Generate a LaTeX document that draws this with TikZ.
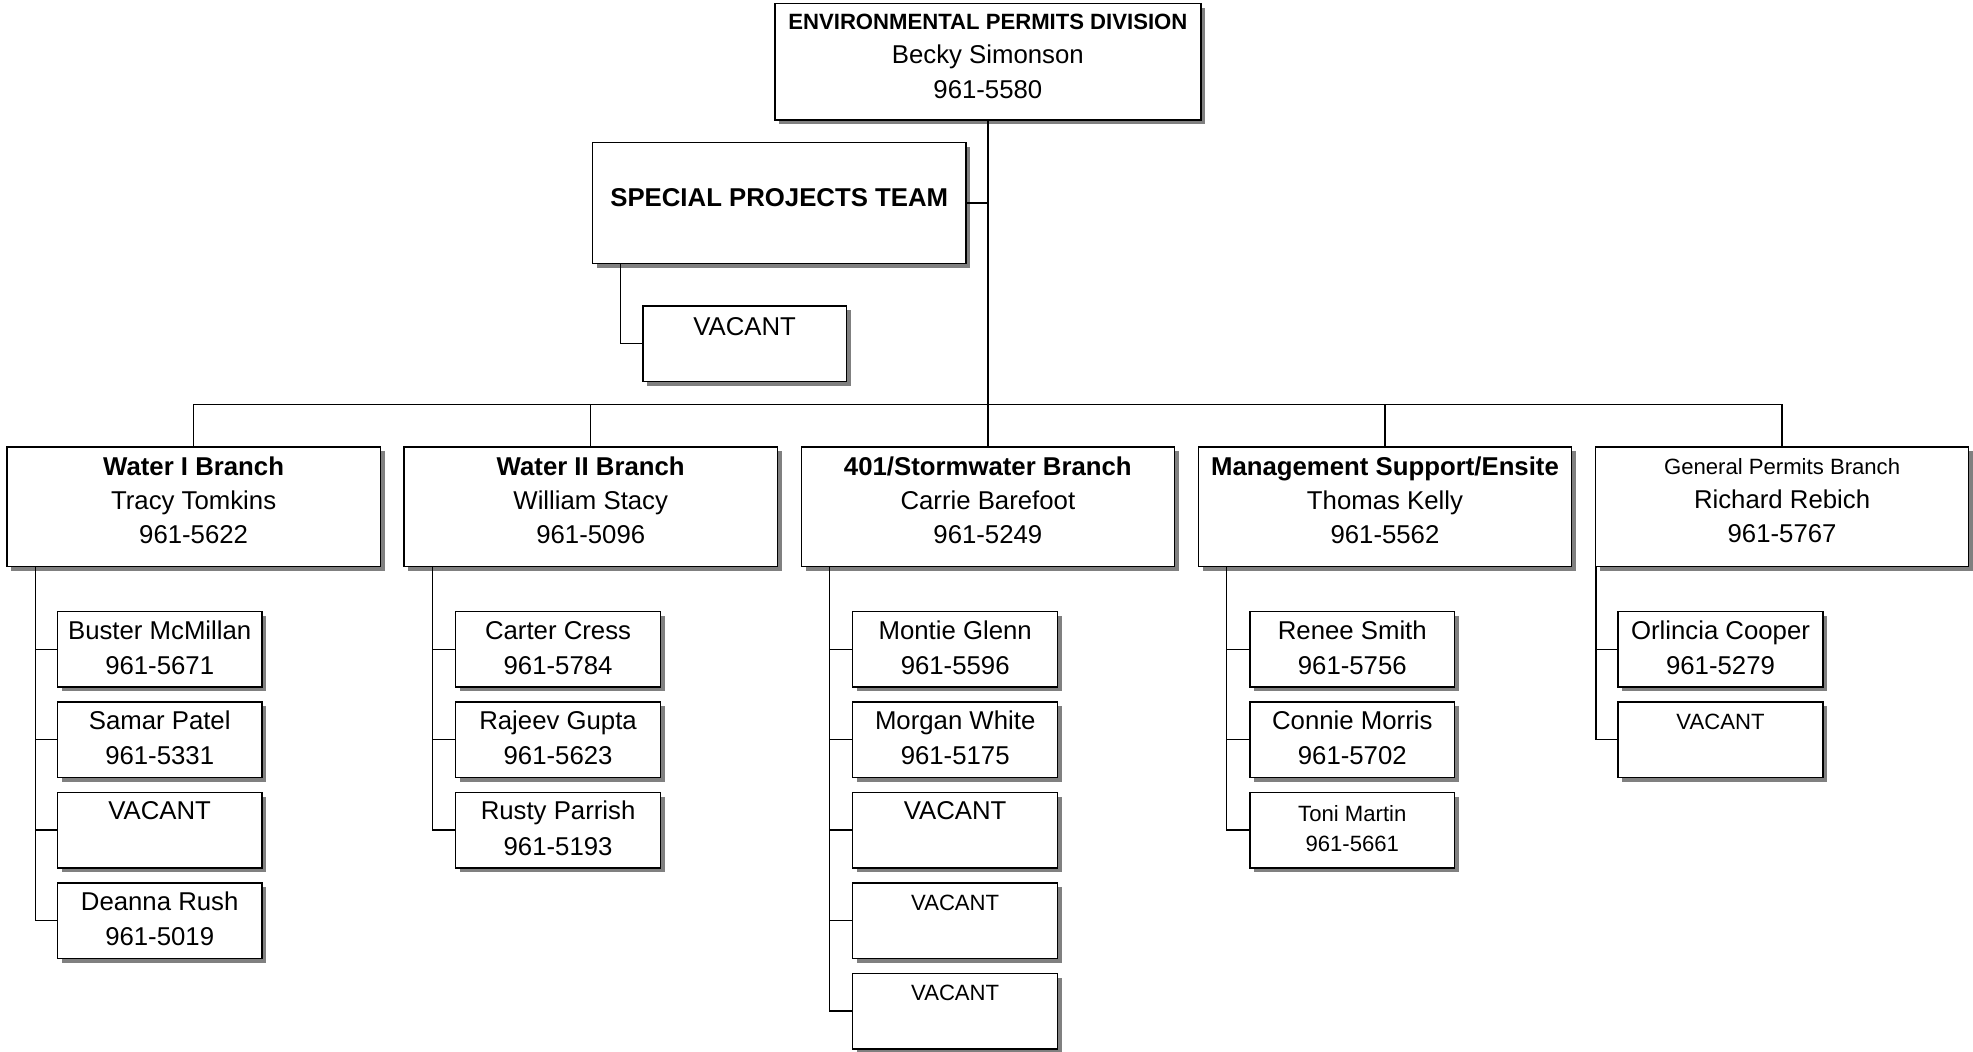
\documentclass[tikz,border=0pt]{standalone}
\usepackage{fontspec}
\setmainfont{Liberation Sans}
\usetikzlibrary{shadows,calc}
\tikzset{
  x=1pt, y=-1pt,
  unitbox/.style={draw, line width=1.15pt, fill=white, inner sep=0pt, anchor=north west,
    general shadow={fill=black!50, shadow xshift=3.4pt, shadow yshift=-3.4pt}},
  conn/.style={line width=1.05pt},
  bigtxt/.style={font=\fontsize{20.5}{24}\selectfont, inner sep=0pt, anchor=base},
  bigbold/.style={font=\fontsize{20.5}{24}\selectfont\bfseries, inner sep=0pt, anchor=base},
  smalltxt/.style={font=\fontsize{17.6}{20}\selectfont, inner sep=0pt, anchor=base},
  smallbold/.style={font=\fontsize{17.6}{20}\selectfont\bfseries, inner sep=0pt, anchor=base},
}
\newcommand\obox[5]{\node[unitbox, minimum width=#4pt, minimum height=#5pt] (#1) at (#2,#3) {};}
\newcommand\tl[5]{\node[#1] (#2) at ([yshift=-#4pt]#3.north) {#5};}
\newcommand\person[5]{% name, left, top, line1, line2
  \obox{#1}{#2}{#3}{163}{60}
  \tl{bigtxt}{#1-a}{#1}{22.5}{#4}
  \tl{bigtxt}{#1-b}{#1}{50.5}{#5}}
\newcommand\vacant[3]{\obox{#1}{#2}{#3}{163}{60}\tl{bigtxt}{#1-a}{#1}{22.5}{VACANT}}
\newcommand\svacant[3]{\obox{#1}{#2}{#3}{163}{60}\tl{smalltxt}{#1-a}{#1}{22.5}{VACANT}}
\begin{document}
\begin{tikzpicture}
\useasboundingbox (0,0) rectangle (1570,837.1);
% top
\obox{epd}{616}{2}{339}{93}
\tl{smallbold}{epd-a}{epd}{21.2}{ENVIRONMENTAL PERMITS DIVISION}
\tl{bigtxt}{epd-b}{epd}{48.5}{Becky Simonson}
\tl{bigtxt}{epd-c}{epd}{76.3}{961-5580}
% special projects
\obox{spt}{471}{113}{297}{96}
\tl{bigbold}{spt-a}{spt}{51.5}{SPECIAL PROJECTS TEAM}
\obox{sptv}{511}{243}{162}{60}
\tl{bigtxt}{sptv-a}{sptv}{24}{VACANT}
% branches
\obox{wa}{5}{355}{297}{95}
\tl{bigbold}{wa-a}{wa}{23.3}{Water I Branch}
\tl{bigtxt}{wa-b}{wa}{50.3}{Tracy Tomkins}
\tl{bigtxt}{wa-c}{wa}{77.3}{961-5622}
\obox{wb}{321}{355}{297}{95}
\tl{bigbold}{wb-a}{wb}{23.3}{Water II Branch}
\tl{bigtxt}{wb-b}{wb}{50.3}{William Stacy}
\tl{bigtxt}{wb-c}{wb}{77.3}{961-5096}
\obox{sw}{637}{355}{297}{95}
\tl{bigbold}{sw-a}{sw}{23.3}{401/Stormwater Branch}
\tl{bigtxt}{sw-b}{sw}{50.3}{Carrie Barefoot}
\tl{bigtxt}{sw-c}{sw}{77.3}{961-5249}
\obox{ms}{953}{355}{297}{95}
\tl{bigbold}{ms-a}{ms}{23.3}{Management Support/Ensite}
\tl{bigtxt}{ms-b}{ms}{50.3}{Thomas Kelly}
\tl{bigtxt}{ms-c}{ms}{77.3}{961-5562}
\obox{gp}{1269}{355}{297}{95}
\tl{smalltxt}{gp-a}{gp}{22.5}{General Permits Branch}
\tl{bigtxt}{gp-b}{gp}{49.3}{Richard Rebich}
\tl{bigtxt}{gp-c}{gp}{76.3}{961-5767}
% children Water I
\person{wa1}{45}{486}{Buster McMillan}{961-5671}
\person{wa2}{45}{558}{Samar Patel}{961-5331}
\vacant{wa3}{45}{630}
\person{wa4}{45}{702}{Deanna Rush}{961-5019}
% Water II
\person{wb1}{362}{486}{Carter Cress}{961-5784}
\person{wb2}{362}{558}{Rajeev Gupta}{961-5623}
\person{wb3}{362}{630}{Rusty Parrish}{961-5193}
% 401
\person{sw1}{678}{486}{Montie Glenn}{961-5596}
\person{sw2}{678}{558}{Morgan White}{961-5175}
\vacant{sw3}{678}{630}
\svacant{sw4}{678}{702}
\svacant{sw5}{678}{774}
% Management
\person{ms1}{994}{486}{Renee Smith}{961-5756}
\person{ms2}{994}{558}{Connie Morris}{961-5702}
\obox{ms3}{994}{630}{163}{60}
\tl{smalltxt}{ms3-a}{ms3}{23.5}{Toni Martin}
\tl{smalltxt}{ms3-b}{ms3}{47.5}{961-5661}
% General
\person{gp1}{1287}{486}{Orlincia Cooper}{961-5279}
\svacant{gp2}{1287}{558}
% connectors
\coordinate (bus) at (786,322);
\draw[conn] (epd.south) -- (sw.north);
\draw[conn] (wa.north) |- (bus) -| (gp.north);
\draw[conn] (wb.north) -- (wb.north |- bus);
\draw[conn] (ms.north) -- (ms.north |- bus);
\draw[conn] (spt.east) -- (spt.east -| epd.south);
\coordinate (sptL) at ([xshift=23pt]spt.south west);
\draw[conn] (sptL) |- (sptv.west);
% child trunks
\coordinate (waL) at ([xshift=23pt]wa.south west);
\draw[conn] (waL) |- (wa4.west);
\foreach \i in {1,2,3} \draw[conn] (wa\i.west) -- (wa\i.west -| waL);
\coordinate (wbL) at ([xshift=23pt]wb.south west);
\draw[conn] (wbL) |- (wb3.west);
\foreach \i in {1,2} \draw[conn] (wb\i.west) -- (wb\i.west -| wbL);
\coordinate (swL) at ([xshift=23pt]sw.south west);
\draw[conn] (swL) |- (sw5.west);
\foreach \i in {1,2,3,4} \draw[conn] (sw\i.west) -- (sw\i.west -| swL);
\coordinate (msL) at ([xshift=23pt]ms.south west);
\draw[conn] (msL) |- (ms3.west);
\foreach \i in {1,2} \draw[conn] (ms\i.west) -- (ms\i.west -| msL);
\coordinate (gpL) at ([xshift=1pt]gp.south west);
\draw[conn] (gpL) |- (gp2.west);
\draw[conn] (gp1.west) -- (gp1.west -| gpL);
\end{tikzpicture}
\end{document}
